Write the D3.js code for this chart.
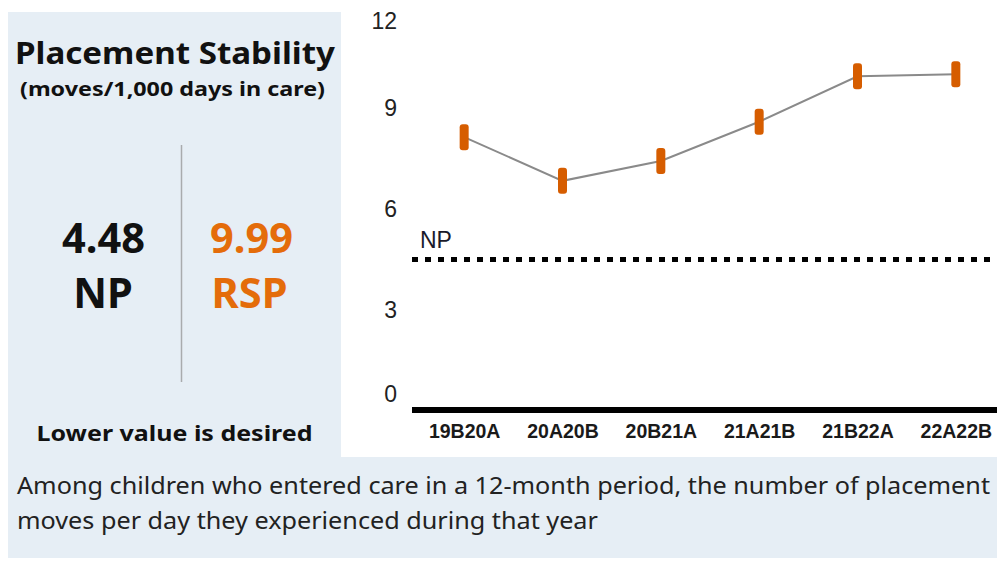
<!DOCTYPE html>
<html>
<head>
<meta charset="utf-8">
<script src="https://cdn.jsdelivr.net/npm/d3@7/dist/d3.min.js"></script>
<style>
  html, body { margin: 0; padding: 0; background: #ffffff; }
  svg { display: block; }
</style>
</head>
<body>
<svg id="chart" width="997" height="565"></svg>
<script>
// ---------- data ----------
const categories = ["19B20A", "20A20B", "20B21A", "21A21B", "21B22A", "22A22B"];
const rspValues  = [8.12, 6.82, 7.41, 8.58, 9.93, 9.99];
const yTicks     = [0, 3, 6, 9, 12];
const npValue    = 4.48;
const rspLatest  = 9.99;
const titleText    = "Placement Stability";
const subtitleText = "(moves/1,000 days in care)";
const noteText     = "Lower value is desired";
const descLines    = [
  "Among children who entered care in a 12-month period, the number of placement",
  "moves per day they experienced during that year"
];

// ---------- layout ----------
const W = 997, H = 565;
const panelBg = "#e6eef5";
const orangeText = "#e46c0a";
const orangeMark = "#d65d00";
const textDark = "#111111";
const sansBold = "'Noto Sans', 'Open Sans', 'DejaVu Sans', sans-serif";
const chartFont = "'Liberation Sans', Arial, sans-serif";

const svg = d3.select("#chart");

// background panels
svg.append("rect").attr("x", 8).attr("y", 12).attr("width", 333).attr("height", 446).attr("fill", panelBg);
svg.append("rect").attr("x", 8).attr("y", 457).attr("width", W - 8).attr("height", 101).attr("fill", panelBg);

function fitText(sel, targetWidth) {
  const fs = parseFloat(sel.attr("font-size"));
  const w = sel.node().getComputedTextLength();
  sel.attr("font-size", (fs * targetWidth / w).toFixed(2));
  return fs * targetWidth / w;
}
// keep font size, squeeze/stretch horizontally to target width; returns ratio
function squeeze(sel, targetWidth) {
  const w = sel.node().getComputedTextLength();
  sel.attr("textLength", targetWidth).attr("lengthAdjust", "spacingAndGlyphs");
  return targetWidth / w;
}

// ---------- left panel ----------
const left = svg.append("g");
squeeze(left.append("text").attr("x", 175).attr("y", 64).attr("text-anchor", "middle")
  .attr("font-family", sansBold).attr("font-weight", 700).attr("font-size", 31)
  .attr("fill", textDark).text(titleText), 320);
squeeze(left.append("text").attr("x", 172.5).attr("y", 96).attr("text-anchor", "middle")
  .attr("font-family", sansBold).attr("font-weight", 700).attr("font-size", 20)
  .attr("fill", textDark).text(subtitleText), 305);

// divider
left.append("line").attr("x1", 181.5).attr("x2", 181.5).attr("y1", 145).attr("y2", 382)
  .attr("stroke", "#a9abad").attr("stroke-width", 1.5);

const fmt = d3.format(".2f");
const bigNp = left.append("text").attr("x", 103.5).attr("y", 253).attr("text-anchor", "middle")
  .attr("font-family", sansBold).attr("font-weight", 700).attr("font-size", 40)
  .attr("fill", textDark).text(fmt(npValue));
const bigFs = fitText(bigNp, 83);
left.append("text").attr("x", 103).attr("y", 308).attr("text-anchor", "middle")
  .attr("font-family", sansBold).attr("font-weight", 700).attr("font-size", bigFs)
  .attr("fill", textDark).text("NP");
left.append("text").attr("x", 251.5).attr("y", 253).attr("text-anchor", "middle")
  .attr("font-family", sansBold).attr("font-weight", 700).attr("font-size", bigFs)
  .attr("fill", orangeText).text(fmt(rspLatest));
left.append("text").attr("x", 249.5).attr("y", 308).attr("text-anchor", "middle")
  .attr("font-family", sansBold).attr("font-weight", 700).attr("font-size", bigFs)
  .attr("fill", orangeText).text("RSP");

squeeze(left.append("text").attr("x", 174.5).attr("y", 441).attr("text-anchor", "middle")
  .attr("font-family", sansBold).attr("font-weight", 700).attr("font-size", 22)
  .attr("fill", textDark).text(noteText), 276);

// ---------- description ----------
const d1 = svg.append("text").attr("x", 17).attr("y", 493.5)
  .attr("font-family", "'Noto Sans', 'Open Sans', sans-serif").attr("font-size", 23)
  .attr("fill", "#222").text(descLines[0]);
const ratio = squeeze(d1, 973);
const d2 = svg.append("text").attr("x", 17).attr("y", 529)
  .attr("font-family", "'Noto Sans', 'Open Sans', sans-serif").attr("font-size", 23)
  .attr("fill", "#222").text(descLines[1]);
squeeze(d2, d2.node().getComputedTextLength() * ratio);

// ---------- chart ----------
const plotLeft = 412, plotRight = W, plotBottom = 410, yUnit = 33.6;
const y = d3.scaleLinear().domain([0, 12]).range([plotBottom, plotBottom - 12 * yUnit]);
const x = d3.scalePoint().domain(categories).range([415, 1005]).padding(0.5);

// y labels (no axis line)
const yAxis = svg.append("g").attr("transform", "translate(397,0)")
  .call(d3.axisLeft(y).tickValues(yTicks).tickSize(0).tickPadding(0).tickFormat(d3.format("d")));
yAxis.select(".domain").remove();
yAxis.selectAll("text")
  .attr("font-family", chartFont).attr("font-size", 23).attr("fill", "#222")
  .attr("dy", d => d === 0 ? "-0.35em" : (d === 12 ? "0.95em" : "0.35em"));

// x axis labels
const xAxis = svg.append("g").attr("transform", `translate(0,${plotBottom + 6})`)
  .call(d3.axisBottom(x).tickSize(0).tickPadding(8));
xAxis.select(".domain").remove();
xAxis.selectAll("text")
  .attr("font-family", chartFont).attr("font-weight", 700).attr("font-size", 19.5).attr("fill", "#1a1a1a");

// baseline
svg.append("line").attr("x1", plotLeft).attr("x2", plotRight)
  .attr("y1", y(0)).attr("y2", y(0)).attr("stroke", "#000").attr("stroke-width", 6);

// NP reference line
svg.append("line").attr("x1", plotLeft).attr("x2", plotRight)
  .attr("y1", y(npValue)).attr("y2", y(npValue))
  .attr("stroke", "#000").attr("stroke-width", 5).attr("stroke-dasharray", "6,7");
svg.append("text").attr("x", 420).attr("y", y(npValue) - 11)
  .attr("font-family", chartFont).attr("font-size", 23).attr("fill", "#1a1a2a").text("NP");

// series line
const line = d3.line().x((d, i) => x(categories[i])).y(d => y(d));
svg.append("path").datum(rspValues).attr("d", line)
  .attr("fill", "none").attr("stroke", "#8a8a8a").attr("stroke-width", 2);

// markers
svg.selectAll("rect.mark").data(rspValues).enter().append("rect")
  .attr("class", "mark")
  .attr("x", (d, i) => x(categories[i]) - 4.5)
  .attr("y", d => y(d) - 13)
  .attr("width", 9).attr("height", 26).attr("rx", 3)
  .attr("fill", orangeMark);
</script>
</body>
</html>
